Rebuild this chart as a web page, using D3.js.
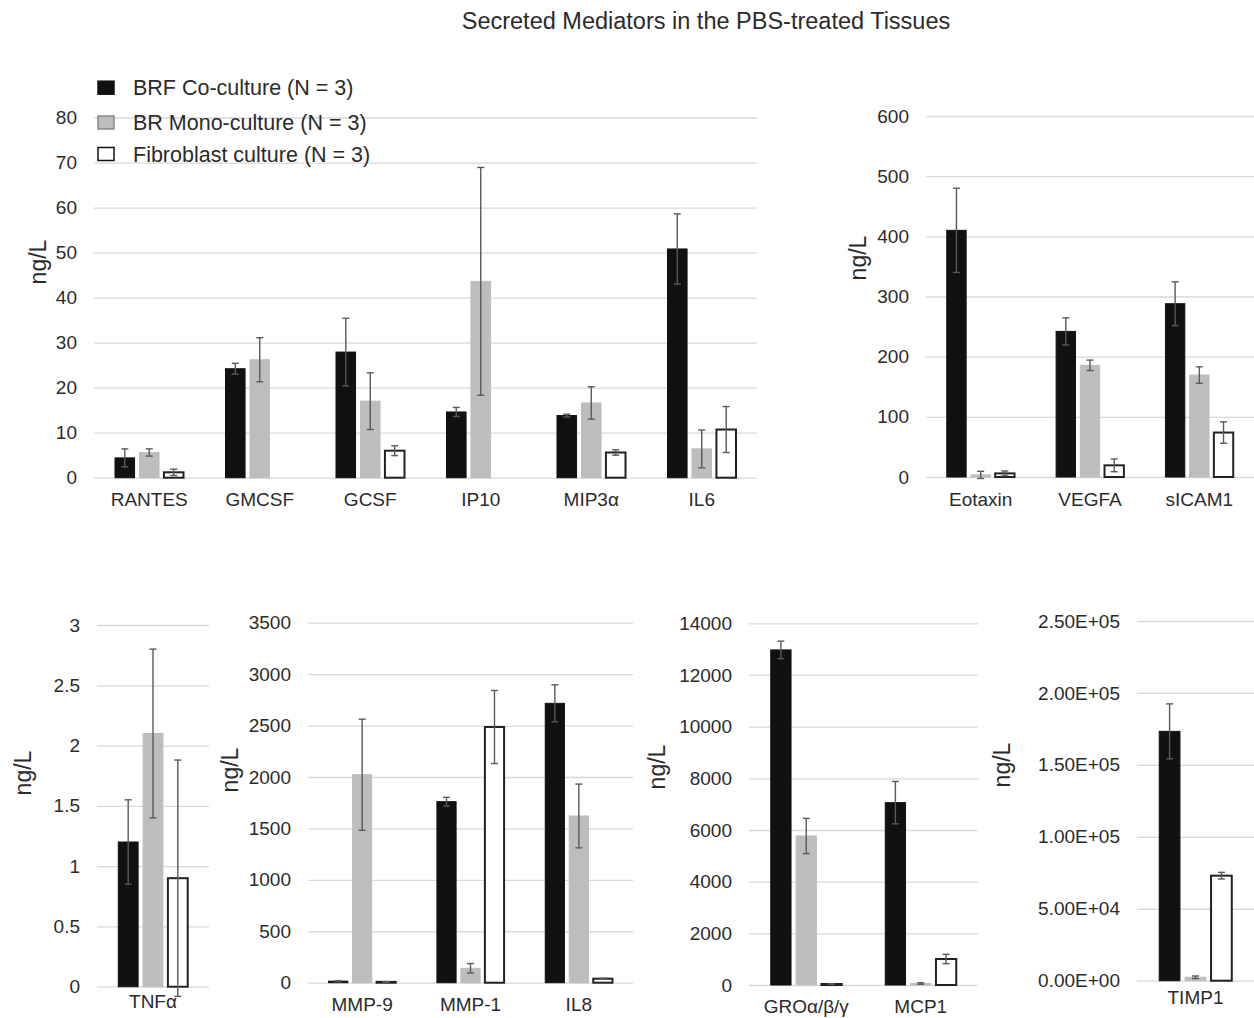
<!DOCTYPE html>
<html>
<head>
<meta charset="utf-8">
<script src="https://cdn.jsdelivr.net/npm/d3@7"></script>
<style>
  body { margin: 0; background: #fff; }
  text { font-family: "Liberation Sans", Arial, sans-serif; fill: #2b2b2b; }
</style>
</head>
<body>
<script>
// series names (legend)
var seriesNames = ["BRF Co-culture (N = 3)", "BR Mono-culture (N = 3)", "Fibroblast culture (N = 3)"];

// panel A - small cytokines
var catsA = ["RANTES", "GMCSF", "GCSF", "IP10", "MIP3\u03b1", "IL6"];
var brfA = [4.4, 24.2, 27.9, 14.6, 13.8, 50.8];
var brfErrA = [2.0, 1.2, 7.5, 1.0, 0.3, 7.8];
var brA = [5.6, 26.2, 17.0, 43.6, 16.6, 6.4];
var brErrA = [0.8, 4.9, 6.3, 25.3, 3.6, 4.2];
var fibA = [1.2, 0, 6.0, 0, 5.6, 10.7];
var fibErrA = [0.7, 0, 1.1, 0, 0.6, 5.1];

// panel B
var catsB = ["Eotaxin", "VEGFA", "sICAM1"];
var brfB = [410, 242, 288];
var brfErrB = [70, 22.5, 36.4];
var brB = [3.5, 185.6, 169.4];
var brErrB = [6, 8.7, 13.7];
var fibB = [6, 19.4, 73.9];
var fibErrB = [4, 10.6, 17.8];

// panel C
var catsC = ["TNF\u03b1"];
var brfC = [1.2];
var brfErrC = [0.35];
var brC = [2.1];
var brErrC = [0.7];
var fibC = [0.9];
var fibErrC = [0.98];

// panel D
var catsD = ["MMP-9", "MMP-1", "IL8"];
var brfD = [15, 1760, 2716];
var brfErrD = [5, 42, 180];
var brD = [2022, 140, 1621];
var brErrD = [540, 46, 310];
var fibD = [8, 2486, 39];
var fibErrD = [3, 355, 5];

// panel E
var catsE = ["GRO\u03b1/\u03b2/\u03b3", "MCP1"];
var brfE = [12970, 7058];
var brfErrE = [340, 820];
var brE = [5768, 60];
var brErrE = [680, 30];
var fibE = [40, 1006];
var fibErrE = [10, 180];

// panel F
var catsF = ["TIMP1"];
var brfF = [173300];
var brfErrF = [19100];
var brF = [2400];
var brErrF = [900];
var fibF = [73000];
var fibErrF = [2300];

var W = 1254, H = 1018;
var svg = d3.select("body").append("svg").attr("width", W).attr("height", H);

var fills = ["#111", "#bdbdbd", "#fff"];
var strokes = ["#111", "#bdbdbd", "#222"];

function sciFmt(d) {
  return d.toExponential(2).toUpperCase().replace(/E([+-])(\d)$/, "E$10$2");
}

var panels = [
  {cats: catsA, vals: [brfA, brA, fibA], errs: [brfErrA, brErrA, fibErrA], max: 80, step: 10,
   left: 94, right: 757, top: 117.5, bottom: 477.7, ylabX: 38, ylabY: 262, labOff: 22},
  {cats: catsB, vals: [brfB, brB, fibB], errs: [brfErrB, brErrB, fibErrB], max: 600, step: 100,
   left: 926, right: 1254, top: 116, bottom: 477, ylabX: 858, ylabY: 258, labOff: 22},
  {cats: catsC, vals: [brfC, brC, fibC], errs: [brfErrC, brErrC, fibErrC], max: 3, step: 0.5,
   left: 97, right: 209, top: 625, bottom: 986.7, ylabX: 23, ylabY: 773, labOff: 15},
  {cats: catsD, vals: [brfD, brD, fibD], errs: [brfErrD, brErrD, fibErrD], max: 3500, step: 500,
   left: 308, right: 633, top: 622.7, bottom: 982.7, ylabX: 230, ylabY: 770, labOff: 22},
  {cats: catsE, vals: [brfE, brE, fibE], errs: [brfErrE, brErrE, fibErrE], max: 14000, step: 2000,
   left: 749, right: 978, top: 623.3, bottom: 985, ylabX: 657, ylabY: 767, labOff: 21},
  {cats: catsF, vals: [brfF, brF, fibF], errs: [brfErrF, brErrF, fibErrF], max: 250000, step: 50000,
   left: 1137, right: 1254, top: 621, bottom: 980.7, ylabX: 1002, ylabY: 765, labOff: 17, fmt: sciFmt}
];

panels.forEach(drawPanel);

function drawPanel(p) {
  var g = svg.append("g");
  var y = d3.scaleLinear().domain([0, p.max]).range([p.bottom, p.top]);
  var x0 = d3.scaleBand().domain(p.cats).range([p.left, p.right])
      .paddingInner(0.38).paddingOuter(0.19);
  var x1 = d3.scaleBand().domain([0, 1, 2]).range([0, x0.bandwidth()]).paddingInner(0.2);

  var ticks = d3.range(0, p.max + p.step / 2, p.step);
  var yAxis = g.append("g")
      .attr("transform", "translate(" + p.left + ",0)")
      .call(d3.axisLeft(y).tickValues(ticks).tickSize(-(p.right - p.left)).tickPadding(17)
        .tickFormat(p.fmt || d3.format("")));
  yAxis.select(".domain").remove();
  yAxis.selectAll("line").attr("stroke", "#d9d9d9").attr("stroke-width", 1.3);
  yAxis.selectAll("text").style("font-size", "19px").attr("fill", "#2b2b2b")
      .style("font-family", "'Liberation Sans', Arial, sans-serif");

  g.append("text")
      .attr("transform", "translate(" + p.ylabX + "," + p.ylabY + ") rotate(-90)")
      .attr("text-anchor", "middle")
      .attr("dy", "0.35em")
      .style("font-size", "23px")
      .text("ng/L");

  var rows = [];
  p.cats.forEach(function(c, i) {
    for (var s = 0; s < 3; s++) rows.push({cat: c, s: s, v: p.vals[s][i], e: p.errs[s][i]});
  });

  g.selectAll(".bar").data(rows.filter(function(d) { return d.v > 0; }))
    .enter().append("rect")
      .attr("class", "bar")
      .attr("x", function(d) { return x0(d.cat) + x1(d.s); })
      .attr("y", function(d) { return y(d.v); })
      .attr("width", x1.bandwidth())
      .attr("height", function(d) { return y(0) - y(d.v); })
      .attr("fill", function(d) { return fills[d.s]; })
      .attr("stroke", function(d) { return strokes[d.s]; })
      .attr("stroke-width", function(d) { return d.s == 2 ? 2 : 1; });

  var eb = g.selectAll(".err").data(rows.filter(function(d) { return d.e > 0; }))
    .enter().append("g").attr("class", "err")
      .attr("transform", function(d) { return "translate(" + (x0(d.cat) + x1(d.s) + x1.bandwidth() / 2) + ",0)"; })
      .attr("stroke", "#5a5a5a").attr("stroke-width", 1.4);
  eb.append("line")
      .attr("y1", function(d) { return y(d.v + d.e); })
      .attr("y2", function(d) { return y(d.v - d.e); });
  eb.append("line").attr("x1", -3.5).attr("x2", 3.5)
      .attr("y1", function(d) { return y(d.v + d.e); })
      .attr("y2", function(d) { return y(d.v + d.e); });
  eb.append("line").attr("x1", -3.5).attr("x2", 3.5)
      .attr("y1", function(d) { return y(d.v - d.e); })
      .attr("y2", function(d) { return y(d.v - d.e); });

  g.selectAll(".cat").data(p.cats)
    .enter().append("text")
      .attr("class", "cat")
      .attr("x", function(d) { return x0(d) + x0.bandwidth() / 2; })
      .attr("y", p.bottom + p.labOff)
      .attr("dy", "0.35em")
      .attr("text-anchor", "middle")
      .style("font-size", "19px")
      .text(function(d) { return d; });
}

// legend (sits inside the first panel)
var leg = svg.append("g").attr("transform", "translate(97,0)");
var legY = [87.7, 122.5, 154];
seriesNames.forEach(function(name, i) {
  leg.append("rect")
      .attr("x", 1).attr("y", legY[i] - 6.5).attr("width", 16).attr("height", 13)
      .attr("fill", fills[i]).attr("stroke", i == 1 ? "#888" : "#111").attr("stroke-width", 1.5);
  leg.append("text")
      .attr("x", 36).attr("y", legY[i]).attr("dy", "0.35em")
      .style("font-size", "21.5px")
      .text(name);
});

svg.append("text")
    .attr("x", 706).attr("y", 21).attr("dy", "0.35em")
    .attr("text-anchor", "middle")
    .style("font-size", "23.5px")
    .text("Secreted Mediators in the PBS-treated Tissues");
</script>
</body>
</html>
